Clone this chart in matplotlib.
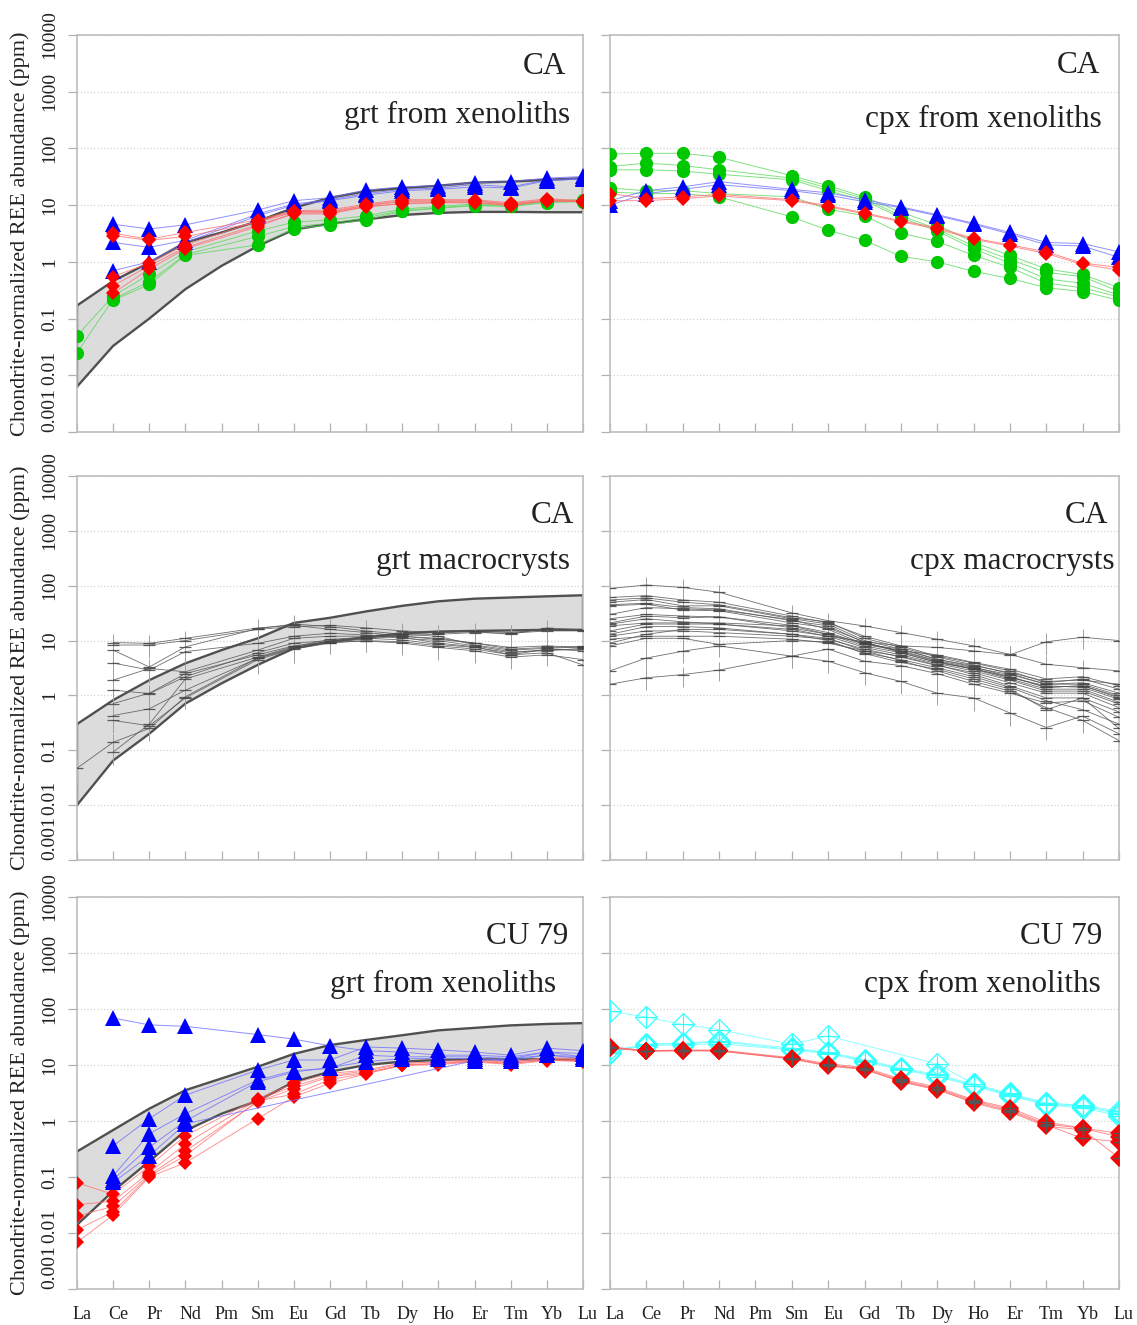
import numpy as np
import matplotlib
matplotlib.use("Agg")
import matplotlib.pyplot as plt
from matplotlib.transforms import ScaledTranslation

plt.rcParams['font.family'] = ['Liberation Serif', 'DejaVu Serif']

n = np.nan
ree = ["La", "Ce", "Pr", "Nd", "Pm", "Sm", "Eu", "Gd", "Tb", "Dy", "Ho", "Er", "Tm", "Yb", "Lu"]
ytick_vals = [0.001, 0.01, 0.1, 1, 10, 100, 1000, 10000]
ytick_text = ["0.001", "0.01", "0.1", "1", "10", "100", "1000", "10000"]

# ---------------- CA: garnet from xenoliths ----------------
ca_grt_env_hi = [0.17, 0.46, 0.97, 2.2, 3.3, 5.2, 9.0, 13.5, 17.6, 20, 22, 25, 26, 28, 30]
ca_grt_env_lo = [0.0063, 0.033, 0.1, 0.33, 0.85, 1.9, 3.7, 4.7, 5.6, 6.7, 7.3, 7.6, 7.6, 7.5, 7.5]
ca_grt_green = [
    [0.05, 0.25, 0.60, 1.5, n, 3.5, 5.0, 5.5, 6.5, 8.5, 9.5, 10.5, 10.0, 12.0, 12.5],
    [0.025, 0.22, 0.45, 1.35, n, 2.8, 4.2, 4.8, 6.0, 8.0, 9.0, 10.0, 9.5, 11.5, 12.0],
    [n, 0.21, 0.40, 1.3, n, 2.0, 3.8, 4.5, 5.5, 7.8, 8.8, 9.8, 9.5, 11.0, 11.5],
]
ca_grt_blue = [
    [n, 4.6, 3.8, 4.5, n, 8.2, 12.0, 13.5, 18.5, 21, 22, 25, 26, 30, 32],
    [n, 2.2, 1.8, 2.4, n, 7.0, 10.5, 12.5, 16.0, 19, 20, 23, 21, 28, 30],
    [n, 0.70, 1.0, 2.2, n, 6.5, 10.0, 12.0, 15.0, 18, 19, 21, 20, 27, 29],
]
ca_grt_red = [
    [n, 3.2, 2.5, 3.3, n, 5.5, 8.0, 8.2, 10.5, 12.5, 12.5, 12.5, 11.0, 13.0, 12.0],
    [n, 2.9, 2.4, 2.8, n, 5.0, 7.5, 7.8, 10.0, 12.0, 12.0, 12.0, 10.5, 12.5, 11.8],
    [n, 0.55, 0.95, 2.0, n, 5.2, 7.8, 7.5, 9.8, 11.5, 11.5, 11.8, 10.2, 12.2, 11.5],
    [n, 0.38, 0.85, 1.8, n, 4.5, 7.0, 7.0, 9.5, 10.5, 11.0, 11.0, 9.8, 12.0, 11.5],
    [n, 0.28, 0.75, 1.7, n, 4.2, 7.2, 7.3, 9.2, 10.8, 11.2, 11.2, 10.0, 11.8, 11.8],
]

# ---------------- CA: clinopyroxene from xenoliths ----------------
ca_cpx_green = [
    [80, 82, 82, 70, n, 33, 22, 14, 7.5, 4.5, 2.2, 1.3, 0.75, 0.60, 0.35],
    [48, 55, 50, 42, n, 30, 20, 13, 6.5, 3.8, 1.9, 1.1, 0.65, 0.55, 0.30],
    [42, 42, 40, 35, n, 28, 18, 12, 6.0, 3.5, 1.7, 0.95, 0.50, 0.42, 0.26],
    [20, 18, 18, 16, n, 14, 8.5, 6.5, 3.2, 2.3, 1.3, 0.80, 0.42, 0.35, 0.24],
    [17, 16, 16, 14, n, 6.2, 3.6, 2.4, 1.25, 1.0, 0.68, 0.51, 0.35, 0.30, 0.21],
]
ca_cpx_blue = [
    [12, 18, 21, 26, n, 19, 16.5, 12.5, 9.3, 6.8, 4.8, 3.3, 2.2, 2.1, 1.5],
    [10, 16, 19, 23, n, 18, 15.0, 11.5, 9.0, 6.5, 4.6, 3.1, 2.0, 1.9, 1.2],
]
ca_cpx_red = [
    [16, 13, 14, 15.5, n, 12.5, 9.8, 7.3, 5.3, 4.0, 2.6, 2.0, 1.5, 0.95, 0.80],
    [12, 12, 13, 14.5, n, 12.0, 9.4, 7.0, 5.1, 3.8, 2.5, 1.9, 1.4, 0.90, 0.72],
]

# ---------------- CA: garnet macrocrysts ----------------
grt_macro_env_hi = [0.30, 0.82, 1.9, 3.85, 6.7, 11, 21, 26, 34, 43, 52, 58, 61, 64, 67]
grt_macro_env_lo = [0.010, 0.065, 0.20, 0.71, 1.66, 3.6, 7.2, 9.6, 11.5, 13.6, 14.6, 15.0, 15.3, 15.7, 15.7]
grt_macro = [
    [n, 9.2, 8.9, 11.0, n, 17.0, 19.0, 16.0, 14.0, 12.0, 10.5, 9.0, 7.5, 8.0, 7.5],
    [n, 8.3, 8.3, 10.0, n, 16.0, 18.0, 19.0, 17.0, 15.0, 14.0, 14.6, 13.0, 17.0, 15.7],
    [n, 6.7, 3.3, 7.7, n, 16.5, 20.0, 18.0, 15.0, 13.0, 12.0, 8.3, 6.7, 7.2, 7.7],
    [n, 3.9, 2.9, 6.3, n, 8.9, 12.0, 13.6, 12.6, 11.0, 10.0, 8.0, 6.3, 6.5, 7.2],
    [n, 1.9, 3.1, 2.7, n, 6.7, 11.0, 12.0, 12.0, 11.5, 9.0, 7.7, 5.5, 7.0, 6.5],
    [n, 1.25, 1.08, 2.2, n, 6.0, 9.0, 10.0, 11.0, 10.3, 8.5, 7.5, 6.0, 6.8, 7.0],
    [n, 0.71, 1.1, 2.5, n, 5.5, 8.0, 9.6, 10.5, 12.5, 13.0, 14.0, 13.6, 15.0, 15.0],
    [n, 0.43, 0.57, 1.25, n, 4.75, 7.2, 9.2, 11.0, 13.0, 14.0, 15.0, 14.0, 16.0, 15.5],
    [n, 0.35, 0.28, 0.90, n, 4.5, 7.0, 9.0, 10.0, 9.5, 8.0, 7.0, 5.5, 6.0, 3.6],
    [0.047, 0.14, 0.25, 0.95, n, 4.8, 7.5, 9.4, 9.8, 9.0, 7.5, 6.5, 5.0, 5.5, 4.5],
    [n, 0.093, 0.30, 2.0, n, 5.0, 7.8, 10.5, 11.5, 12.0, 11.0, 9.0, 7.0, 7.5, 7.8],
]
grt_macro_relerr = [0.45, 0.42, 0.42, 0.38, n, 0.45, 0.45, 0.38, 0.38, 0.40, 0.40, 0.40, 0.40, 0.38, 0.38]

# ---------------- CA: clinopyroxene macrocrysts ----------------
cpx_macro = [
    [89, 103, 93, 76, n, 32, 23, 18.5, 14, 10.6, 8.0, 5.6, 3.7, 3.2, 2.8],
    [61, 66, 55, 50, n, 28, 21, 12.0, 8.0, 5.2, 3.9, 2.8, 1.7, 2.0, 1.3],
    [55, 60, 50, 45, n, 26, 22, 11.0, 7.5, 5.0, 3.6, 2.5, 1.6, 1.7, 1.1],
    [50, 56, 43, 43, n, 25, 20, 10.0, 7.0, 4.6, 3.3, 2.2, 1.4, 1.5, 0.9],
    [45, 48, 40, 38, n, 23, 18.5, 9.2, 6.3, 4.2, 3.0, 2.0, 1.3, 1.3, 0.75],
    [43, 46, 36, 35, n, 21, 17, 9.5, 6.0, 4.0, 3.1, 2.1, 1.5, 1.4, 0.85],
    [30, 40, 38, 36, n, 24, 16, 8.5, 7.0, 4.5, 3.5, 2.6, 1.8, 1.9, 1.6],
    [25, 30, 28, 27, n, 17, 13, 9.0, 6.5, 5.5, 4.0, 3.0, 2.0, 2.2, 1.5],
    [21, 28, 26, 27, n, 19, 14, 8.5, 6.5, 4.3, 3.2, 2.4, 1.6, 1.6, 1.0],
    [20, 25, 22, 20, n, 16, 12, 9.5, 8.0, 7.5, 6.5, 5.5, 9.5, 11.5, 10.0],
    [18.5, 21, 21, 21, n, 18.5, 13, 8.0, 6.0, 4.0, 3.0, 2.2, 1.4, 1.5, 0.95],
    [15, 20, 20, 20, n, 15, 12, 7.5, 5.5, 3.8, 2.8, 1.9, 1.2, 1.2, 0.7],
    [13, 18, 18, 17, n, 13, 11, 6.5, 4.3, 2.8, 1.8, 1.2, 0.6, 0.35, 0.15],
    [12, 15, 15, 14, n, 12, 10.6, 7.0, 5.0, 3.5, 2.6, 1.7, 1.1, 1.1, 0.6],
    [10.6, 12, 12, 12, n, 10.6, 9.0, 6.5, 5.2, 3.6, 2.4, 1.5, 0.9, 0.9, 0.5],
    [9, 13, 16, 16, n, 13, 10, 5.8, 4.0, 3.0, 2.0, 1.3, 0.55, 0.9, 0.25],
    [8, 11, 11, 8.5, n, 10, 9.5, 6.0, 4.5, 3.2, 2.2, 1.4, 0.8, 0.55, 0.3],
    [2.8, 4.8, 6.4, 8.0, n, 5.2, 7.0, 4.2, 3.5, 2.5, 1.6, 1.1, 0.73, 0.8, 0.4],
    [1.6, 2.1, 2.4, 2.9, n, 5.2, 4.2, 2.6, 1.8, 1.1, 0.9, 0.48, 0.26, 0.42, 0.2],
]
cpx_macro_relerr = [0.40, 0.40, 0.40, 0.38, n, 0.38, 0.38, 0.40, 0.40, 0.40, 0.42, 0.42, 0.42, 0.40, 0.40]

# ---------------- CU 79: garnet from xenoliths ----------------
cu_grt_env_hi = [0.285, 0.69, 1.66, 3.55, 5.75, 9.3, 15.8, 22.7, 28, 34, 41.6, 46, 51, 54, 56]
cu_grt_env_lo = [0.014, 0.056, 0.19, 0.67, 1.35, 2.3, 5.0, 7.6, 10.0, 11.5, 12.3, 12.6, 12.6, 12.6, 12.3]
cu_grt_red = [
    [0.079, 0.049, 0.158, 0.55, n, 2.5, 4.7, 7.1, 8.1, 11.0, 11.0, 12.0, 11.5, 13.0, 12.5],
    [0.032, 0.037, 0.12, 0.39, n, 2.4, 4.2, 6.5, 7.8, 10.5, 11.5, 12.5, 11.0, 13.5, 13.0],
    [0.020, 0.030, 0.11, 0.29, n, 2.2, 3.8, 6.2, 7.3, 10.0, 10.7, 11.5, 10.7, 12.3, 11.5],
    [0.0114, 0.024, 0.105, 0.24, n, 2.3, 3.0, 5.5, 7.1, 10.0, 10.5, 11.8, 10.5, 12.5, 12.0],
    [0.0068, 0.021, 0.10, 0.18, n, 1.1, 2.7, 4.7, 7.0, 9.8, 10.2, 11.3, 10.2, 12.0, 11.8],
]
cu_grt_blue = [
    [n, 69, 52, 49, n, 35, 29, 22, 18, 17, 15, 15, 14, 17, 16],
    [n, 0.36, 1.1, 2.9, n, 8.1, 12.3, 12.3, 21, 20, 18.6, 17, 15, 20, 18],
    [n, 0.105, 0.59, 1.35, n, 5.4, 7.9, 8.7, 15, 14, 14, 14, 13, 17, 14],
    [n, 0.09, 0.34, 1.0, n, 5.0, 7.5, 9.0, 11.5, 13, 13, 13, 12, 15, 13],
    [n, 0.08, 0.24, 0.89, n, n, n, n, n, n, n, 12, 13, 15, 14],
]

# ---------------- CU 79: clinopyroxene from xenoliths ----------------
cu_cpx_cyan = [
    [91, 72, 53, 43, n, 23.5, 33, n, n, 10.4, 4.6, 3.1, 2.1, 1.9, 1.5],
    [17, 24, 24.5, 27, n, 20, 17, 12.5, 8.8, 6.8, 4.5, 3.0, 2.1, 1.85, 1.4],
    [16.5, 23, 24, 26, n, 19, 16.5, 12.0, 8.5, 6.5, 4.3, 2.9, 2.0, 1.8, 1.35],
    [19, 22, 23, 24, n, 18.5, 16, 11.5, 8.2, 6.2, 4.2, 2.8, 1.95, 1.7, 1.25],
]
cu_cpx_red = [
    [21, 18, 18.5, 18.5, n, 13.5, 10.5, 9.0, 5.6, 4.0, 2.4, 1.7, 0.95, 0.75, 0.60],
    [20, 17.5, 18, 18, n, 13, 10.0, 8.6, 5.3, 3.8, 2.3, 1.6, 0.88, 0.74, 0.52],
    [21, 18, 18, 18, n, 13, 9.8, 8.5, 5.0, 3.6, 2.2, 1.5, 0.85, 0.49, 0.43],
    [20.5, 17.8, 18.2, 17.8, n, 12.8, 9.6, 8.3, 5.1, 3.7, 2.1, 1.45, 0.80, 0.70, 0.22],
]

x = np.arange(len(ree))

W, H = 1137, 1325
fig = plt.figure(figsize=(W / 100, H / 100), dpi=100)

cols = [(77, 583), (610, 1119)]
rows = [(35, 432), (476, 860), (897, 1289)]


def make_ax(r, c):
    (x0, x1), (y0, y1) = cols[c], rows[r]
    ax = fig.add_axes([x0 / W, 1 - y1 / H, (x1 - x0) / W, (y1 - y0) / H])
    ax.set_yscale('log')
    ax.set_xlim(0, 14)
    ax.set_ylim(1e-3, 1e4)
    ax.set_yticks(ytick_vals)
    ax.minorticks_off()
    ax.set_xticks(x)
    for s in ax.spines.values():
        s.set_color('#bdbdbd')
        s.set_linewidth(1.2)
    ax.yaxis.grid(True, linestyle=':', color='#d4d4d4', linewidth=0.9)
    ax.set_axisbelow(True)
    ax.tick_params(axis='x', direction='in', length=6.5, width=0.9, color='#b0b0b0',
                   labelsize=13, pad=12)
    ax.tick_params(axis='y', direction='out', length=6.5, width=0.9, color='#b0b0b0',
                   labelsize=14, pad=7)
    if c == 0:
        ax.set_yticklabels(ytick_text)
        lift = ScaledTranslation(0, 7 / 100, fig.dpi_scale_trans)
        for lab, val in zip(ax.get_yticklabels(), ytick_vals):
            lab.set_rotation(90)
            lab.set_color('#222222')
            if val == 0.001:
                lab.set_va('bottom')
            else:
                lab.set_va('center')
            if val == 0.01:
                lab.set_transform(lab.get_transform() + lift)
        fig.text(20 / W, 1 - (y0 + y1) / 2 / H, "Chondrite-normalized REE abundance (ppm)",
                 rotation=90, ha='center', va='center', fontsize=16, color='#222222')
    else:
        ax.set_yticklabels([])
    if r == 2:
        ax.set_xticklabels(ree)
        off = ScaledTranslation(5 / 100, 0, fig.dpi_scale_trans)
        for lab in ax.get_xticklabels():
            lab.set_transform(lab.get_transform() + off)
            lab.set_color('#222222')
    else:
        ax.set_xticklabels([])
    return ax


def envelope(ax, lo, hi):
    lo = np.asarray(lo, float)
    hi = np.asarray(hi, float)
    ax.fill_between(x, lo, hi, facecolor='#dcdcdc', edgecolor='none', zorder=1)
    ec = '#505050'
    ax.plot(x, hi, color=ec, lw=1.7, zorder=1.5)
    ax.plot(x, lo, color=ec, lw=1.7, zorder=1.5)
    ax.plot([x[0], x[0]], [lo[0], hi[0]], color=ec, lw=1.7, zorder=1.5)
    ax.plot([x[-1], x[-1]], [lo[-1], hi[-1]], color=ec, lw=1.7, zorder=1.5)


def samples(ax, data, color, lcolor, marker, ms, z, **mk):
    for row in data:
        v = np.asarray(row, float)
        m = np.isfinite(v)
        ax.plot(x[m], v[m], color=lcolor, lw=0.7, alpha=0.75, zorder=z)
    for row in data:
        v = np.asarray(row, float)
        m = np.isfinite(v)
        kw = dict(mfc=color, mec=color, mew=0)
        kw.update(mk)
        ax.plot(x[m], v[m], ls='none', marker=marker, ms=ms, zorder=z + 0.5, **kw)


def macro(ax, data, relerr):
    rel = np.asarray(relerr, float)
    for row in data:
        v = np.asarray(row, float)
        m = np.isfinite(v)
        ax.errorbar(x[m], v[m], yerr=rel[m] * v[m], fmt='none', ecolor='#a0a0a0',
                    elinewidth=0.7, capsize=0, zorder=2)
    for row in data:
        v = np.asarray(row, float)
        m = np.isfinite(v)
        ax.plot(x[m], v[m], color='#555555', lw=0.6, alpha=0.85, zorder=3,
                marker='_', ms=9, mec='#444444', mew=0.9)


def titles(ax, t1, p1, t2, p2):
    ax.text(p1[0], p1[1], t1, transform=ax.transAxes, ha='right', va='center',
            fontsize=22.5, color='#222222', zorder=10)
    ax.text(p2[0], p2[1], t2, transform=ax.transAxes, ha='right', va='center',
            fontsize=22.5, color='#222222', zorder=10)


GREEN, BLUE, RED, CYAN = '#00c800', '#0000ff', '#ff0000', '#33ffff'

# CA garnet xenoliths
ax = make_ax(0, 0)
envelope(ax, ca_grt_env_lo, ca_grt_env_hi)
samples(ax, ca_grt_green, GREEN, '#55d855', 'o', 9.5, 4)
samples(ax, ca_grt_blue, BLUE, '#6a6aff', '^', 11, 5)
samples(ax, ca_grt_red, RED, '#ff6a6a', 'D', 7.5, 6)
titles(ax, "CA", (0.966, 0.92), "grt from xenoliths", (0.974, 0.796))

# CA cpx xenoliths
ax = make_ax(0, 1)
samples(ax, ca_cpx_green, GREEN, '#55d855', 'o', 9.5, 4)
samples(ax, ca_cpx_blue, BLUE, '#6a6aff', '^', 11, 5)
samples(ax, ca_cpx_red, RED, '#ff6a6a', 'D', 7.5, 6)
titles(ax, "CA", (0.963, 0.924), "cpx from xenoliths", (0.967, 0.786))

# CA garnet macrocrysts
ax = make_ax(1, 0)
envelope(ax, grt_macro_env_lo, grt_macro_env_hi)
macro(ax, grt_macro, grt_macro_relerr)
titles(ax, "CA", (0.982, 0.898), "grt macrocrysts", (0.974, 0.778))

# CA cpx macrocrysts
ax = make_ax(1, 1)
macro(ax, cpx_macro, cpx_macro_relerr)
titles(ax, "CA", (0.978, 0.898), "cpx macrocrysts", (0.992, 0.778))

# CU 79 garnet xenoliths
ax = make_ax(2, 0)
envelope(ax, cu_grt_env_lo, cu_grt_env_hi)
samples(ax, cu_grt_red, RED, '#ff7070', 'D', 7.5, 4)
samples(ax, cu_grt_blue, BLUE, '#6a6aff', '^', 11, 5)
titles(ax, "CU 79", (0.970, 0.898), "grt from xenoliths", (0.947, 0.776))

# CU 79 cpx xenoliths
ax = make_ax(2, 1)
samples(ax, cu_cpx_cyan, 'none', '#66ffff', 'D', 11, 4, mec=CYAN, mew=0.9)
for row in cu_cpx_cyan:
    v = np.asarray(row, float)
    m = np.isfinite(v)
    ax.plot(x[m], v[m], ls='none', marker='+', ms=14, mec=CYAN, mew=0.8, zorder=4.6)
samples(ax, cu_cpx_red, RED, '#ff6a6a', 'D', 9, 6)
for row in cu_cpx_red:
    v = np.asarray(row, float)
    m = np.isfinite(v)
    ax.plot(x[m], v[m], ls='none', marker='+', ms=9, mec='#555555', mew=1.0, zorder=6.6)
titles(ax, "CU 79", (0.967, 0.898), "cpx from xenoliths", (0.965, 0.776))

fig.savefig("out.png", dpi=100)
